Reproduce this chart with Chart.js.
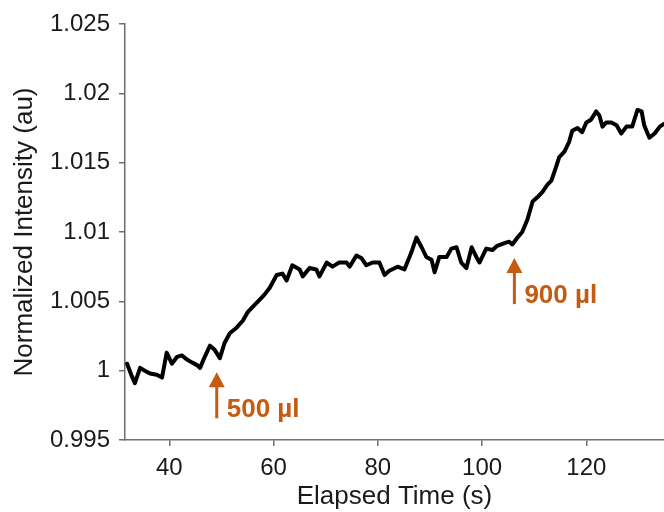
<!DOCTYPE html>
<html>
<head>
<meta charset="utf-8">
<title>Normalized Intensity vs Elapsed Time</title>
<script src="https://cdn.jsdelivr.net/npm/chart.js@4.4.1/dist/chart.umd.min.js"></script>
<style>
  html, body { margin: 0; padding: 0; background: #fff; }
  #wrap { width: 664px; height: 512px; }
</style>
</head>
<body>
<div id="wrap"><canvas id="trace" width="664" height="512"></canvas></div>
<script>
// elapsed time (s) and normalized intensity (au) of the trace
const timeSec = [
  31.9, 32.7, 33.4, 34.4, 35.3, 36.3, 37.6, 38.6, 39.5, 40.5,
  41.5, 42.4, 43.4, 44.3, 45.3, 45.9, 46.8, 47.8, 48.7, 49.7,
  50.6, 51.6, 52.9, 54.1, 55.0, 56.0, 57.3, 58.3, 59.3, 60.6,
  61.7, 62.5, 63.6, 65.0, 65.6, 66.9, 68.2, 68.8, 70.2, 71.3,
  72.6, 74.0, 74.6, 75.9, 76.9, 77.8, 79.0, 80.3, 81.3, 82.2,
  83.8, 85.1, 86.4, 87.4, 88.4, 89.3, 90.3, 90.9, 91.8, 93.2,
  94.1, 95.1, 96.0, 97.0, 98.0, 98.9, 99.5, 100.8, 102.0, 102.9,
  104.3, 105.2, 105.8, 106.8, 107.7, 108.7, 109.7, 110.6, 111.6, 112.5,
  113.3, 114.2, 114.8, 115.8, 116.7, 117.3, 118.3, 119.2, 120.0, 120.9,
  121.9, 122.5, 123.1, 123.8, 124.8, 125.8, 126.7, 127.7, 128.8, 129.8,
  130.6, 131.1, 132.1, 133.1, 134.1, 134.9
];
const intensity = [
  1.0005, 0.9997, 0.9991, 1.0002, 1.0000, 0.9998, 0.9997, 0.9995, 1.0013, 1.0005,
  1.0010, 1.0011, 1.0008, 1.0006, 1.0004, 1.0002, 1.0010, 1.0018, 1.0015, 1.0009,
  1.0020, 1.0027, 1.0031, 1.0036, 1.0042, 1.0046, 1.0051, 1.0055, 1.0060, 1.0069,
  1.0070, 1.0065, 1.0076, 1.0073, 1.0068, 1.0074, 1.0073, 1.0068, 1.0078, 1.0075,
  1.0078, 1.0078, 1.0075, 1.0083, 1.0081, 1.0076, 1.0078, 1.0078, 1.0069, 1.0072,
  1.0075, 1.0073, 1.0085, 1.0096, 1.0089, 1.0082, 1.0080, 1.0071, 1.0082, 1.0082,
  1.0088, 1.0089, 1.0078, 1.0074, 1.0089, 1.0082, 1.0078, 1.0088, 1.0087, 1.0090,
  1.0092, 1.0093, 1.0091, 1.0096, 1.0100, 1.0109, 1.0122, 1.0125, 1.0129, 1.0134,
  1.0137, 1.0147, 1.0154, 1.0158, 1.0165, 1.0173, 1.0175, 1.0172, 1.0179, 1.0181,
  1.0187, 1.0184, 1.0176, 1.0179, 1.0179, 1.0177, 1.0171, 1.0176, 1.0176, 1.0188,
  1.0187, 1.0177, 1.0168, 1.0171, 1.0176, 1.0178
];

const xTicks = [40, 60, 80, 100, 120];
const yTicks = [0.995, 1, 1.005, 1.01, 1.015, 1.02, 1.025];

// injection markers: time, arrow tip / tail in intensity units, label
const doseTimes = [49.1, 106.2];
const doseTip = [0.99989, 1.00812];
const doseTail = [0.99657, 1.00480];
const doseLabels = ['500 µl', '900 µl'];

const AXIS_GREY = '#6e6e6e';
const DOSE_ORANGE = '#c55a11';
const INK = '#1a1a1a';
const FONT = "'Liberation Sans', Arial, sans-serif";

const doseArrows = {
  id: 'doseArrows',
  afterDatasetsDraw(chart) {
    const { ctx, scales: { x, y } } = chart;
    ctx.save();
    ctx.fillStyle = DOSE_ORANGE;
    ctx.strokeStyle = DOSE_ORANGE;
    doseTimes.forEach(function (t, i) {
      const px = x.getPixelForValue(t);
      const tip = y.getPixelForValue(doseTip[i]);
      const tail = y.getPixelForValue(doseTail[i]);
      // shaft
      ctx.lineWidth = 3;
      ctx.beginPath();
      ctx.moveTo(px, tip + 12);
      ctx.lineTo(px, tail);
      ctx.stroke();
      // head
      ctx.beginPath();
      ctx.moveTo(px, tip);
      ctx.lineTo(px - 8, tip + 15);
      ctx.lineTo(px + 8, tip + 15);
      ctx.closePath();
      ctx.fill();
      // label
      ctx.font = 'bold 26px ' + FONT;
      ctx.textAlign = 'left';
      ctx.textBaseline = 'middle';
      ctx.fillText(doseLabels[i], px + 10, tail - 8);
    });
    ctx.restore();
  }
};

new Chart(document.getElementById('trace'), {
  type: 'line',
  data: {
    datasets: [{
      data: timeSec.map(function (t, i) { return { x: t, y: intensity[i] }; }),
      borderColor: '#000',
      borderWidth: 4,
      borderJoinStyle: 'round',
      borderCapStyle: 'round',
      pointRadius: 0,
      tension: 0,
      fill: false
    }]
  },
  options: {
    responsive: false,
    animation: false,
    layout: { padding: { top: 24, right: 0, left: 0, bottom: 0 } },
    plugins: { legend: { display: false }, tooltip: { enabled: false } },
    scales: {
      x: {
        type: 'linear',
        min: 31.5,
        max: 134.9,
        afterBuildTicks: function (axis) { axis.ticks = xTicks.map(function (v) { return { value: v }; }); },
        afterFit: function (axis) { axis.height = 72; },
        grid: { drawOnChartArea: false, drawTicks: true, tickLength: 6, color: AXIS_GREY, lineWidth: 1.5 },
        border: { display: true, color: AXIS_GREY, width: 1.5 },
        ticks: { color: INK, padding: 8, font: { family: FONT, size: 24 }, maxRotation: 0 },
        title: {
          display: true,
          text: 'Elapsed Time (s)',
          color: INK,
          font: { family: FONT, size: 26 },
          padding: { top: 0, bottom: 0 }
        }
      },
      y: {
        min: 0.995,
        max: 1.025,
        afterBuildTicks: function (axis) { axis.ticks = yTicks.map(function (v) { return { value: v }; }); },
        afterFit: function (axis) { axis.width = 125; },
        grid: { drawOnChartArea: false, drawTicks: true, tickLength: 6, color: AXIS_GREY, lineWidth: 1.5 },
        border: { display: true, color: AXIS_GREY, width: 1.5 },
        ticks: {
          color: INK,
          padding: 9,
          font: { family: FONT, size: 24 },
          callback: function (value) { return String(Number(value.toFixed(3))); }
        },
        title: {
          display: true,
          text: 'Normalized Intensity (au)',
          color: INK,
          font: { family: FONT, size: 26 },
          padding: { top: 9, bottom: 0 }
        }
      }
    }
  },
  plugins: [doseArrows]
});
</script>
</body>
</html>
